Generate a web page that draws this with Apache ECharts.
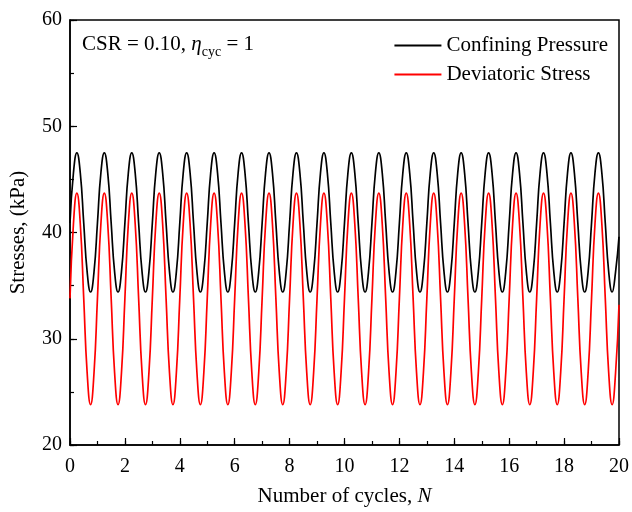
<!DOCTYPE html>
<html>
<head>
<meta charset="utf-8">
<script src="https://cdn.jsdelivr.net/npm/echarts@6/dist/echarts.min.js"></script>
<style>
html,body{margin:0;padding:0;background:#fff;}
#chart{width:632px;height:512px;}
</style>
</head>
<body>
<div id="chart"></div>
<script>
// Samples every 1/8 cycle, N = 0 ... 20
const samplesPerCycle = 8;
const xTicks = ['0','2','4','6','8','10','12','14','16','18','20'];
const yTicks = ['20','30','40','50','60'];
const seriesNames = ['Confining Pressure', 'Deviatoric Stress'];

const confining = [
  40.9, 45.6, 47.5, 45.6, 40.9, 36.3, 34.4, 36.3,
  40.9, 45.6, 47.5, 45.6, 40.9, 36.3, 34.4, 36.3,
  40.9, 45.6, 47.5, 45.6, 40.9, 36.3, 34.4, 36.3,
  40.9, 45.6, 47.5, 45.6, 40.9, 36.3, 34.4, 36.3,
  40.9, 45.6, 47.5, 45.6, 40.9, 36.3, 34.4, 36.3,
  40.9, 45.6, 47.5, 45.6, 40.9, 36.3, 34.4, 36.3,
  40.9, 45.6, 47.5, 45.6, 40.9, 36.3, 34.4, 36.3,
  40.9, 45.6, 47.5, 45.6, 40.9, 36.3, 34.4, 36.3,
  40.9, 45.6, 47.5, 45.6, 40.9, 36.3, 34.4, 36.3,
  40.9, 45.6, 47.5, 45.6, 40.9, 36.3, 34.4, 36.3,
  40.9, 45.6, 47.5, 45.6, 40.9, 36.3, 34.4, 36.3,
  40.9, 45.6, 47.5, 45.6, 40.9, 36.3, 34.4, 36.3,
  40.9, 45.6, 47.5, 45.6, 40.9, 36.3, 34.4, 36.3,
  40.9, 45.6, 47.5, 45.6, 40.9, 36.3, 34.4, 36.3,
  40.9, 45.6, 47.5, 45.6, 40.9, 36.3, 34.4, 36.3,
  40.9, 45.6, 47.5, 45.6, 40.9, 36.3, 34.4, 36.3,
  40.9, 45.6, 47.5, 45.6, 40.9, 36.3, 34.4, 36.3,
  40.9, 45.6, 47.5, 45.6, 40.9, 36.3, 34.4, 36.3,
  40.9, 45.6, 47.5, 45.6, 40.9, 36.3, 34.4, 36.3,
  40.9, 45.6, 47.5, 45.6, 40.9, 36.3, 34.4, 36.3,
  39.6
];

const deviatoric = [
  33.8, 40.8, 43.7, 40.8, 33.8, 26.8, 23.8, 26.8,
  33.8, 40.8, 43.7, 40.8, 33.8, 26.8, 23.8, 26.8,
  33.8, 40.8, 43.7, 40.8, 33.8, 26.8, 23.8, 26.8,
  33.8, 40.8, 43.7, 40.8, 33.8, 26.8, 23.8, 26.8,
  33.8, 40.8, 43.7, 40.8, 33.8, 26.8, 23.8, 26.8,
  33.8, 40.8, 43.7, 40.8, 33.8, 26.8, 23.8, 26.8,
  33.8, 40.8, 43.7, 40.8, 33.8, 26.8, 23.8, 26.8,
  33.8, 40.8, 43.7, 40.8, 33.8, 26.8, 23.8, 26.8,
  33.8, 40.8, 43.7, 40.8, 33.8, 26.8, 23.8, 26.8,
  33.8, 40.8, 43.7, 40.8, 33.8, 26.8, 23.8, 26.8,
  33.8, 40.8, 43.7, 40.8, 33.8, 26.8, 23.8, 26.8,
  33.8, 40.8, 43.7, 40.8, 33.8, 26.8, 23.8, 26.8,
  33.8, 40.8, 43.7, 40.8, 33.8, 26.8, 23.8, 26.8,
  33.8, 40.8, 43.7, 40.8, 33.8, 26.8, 23.8, 26.8,
  33.8, 40.8, 43.7, 40.8, 33.8, 26.8, 23.8, 26.8,
  33.8, 40.8, 43.7, 40.8, 33.8, 26.8, 23.8, 26.8,
  33.8, 40.8, 43.7, 40.8, 33.8, 26.8, 23.8, 26.8,
  33.8, 40.8, 43.7, 40.8, 33.8, 26.8, 23.8, 26.8,
  33.8, 40.8, 43.7, 40.8, 33.8, 26.8, 23.8, 26.8,
  33.8, 40.8, 43.7, 40.8, 33.8, 26.8, 23.8, 26.8,
  33.2
];

const FONT = '"Liberation Serif", "Times New Roman", serif';
const toPairs = arr => arr.map((v, i) => [i / samplesPerCycle, v]);

const chart = echarts.init(document.getElementById('chart'), null, {renderer: 'canvas'});
chart.setOption({
  animation: false,
  backgroundColor: '#fff',
  grid: {
    left: 70, right: 11, top: 20, bottom: 66,
    show: true, borderColor: '#000', borderWidth: 1.5, backgroundColor: 'transparent'
  },
  xAxis: [{
    type: 'value', min: 0, max: 20, interval: 2, position: 'bottom',
    name: '{a|Number of cycles, }{i|N}',
    nameLocation: 'middle', nameGap: 41,
    nameTextStyle: {
      rich: {
        a: {fontFamily: FONT, fontSize: 21, color: '#000'},
        i: {fontFamily: FONT, fontSize: 21, color: '#000', fontStyle: 'italic'}
      }
    },
    axisLine: {lineStyle: {color: '#000', width: 1.5}},
    axisTick: {inside: true, length: 7, lineStyle: {color: '#000', width: 1.2}},
    axisLabel: {
      margin: 12, color: '#000', fontFamily: FONT, fontSize: 20,
      formatter: v => xTicks[Math.round(v / 2)]
    },
    splitLine: {show: false}
  }, {
    type: 'value', min: 0, max: 20, interval: 1, position: 'bottom',
    axisLine: {show: false},
    axisTick: {show: true, inside: true, length: 4, lineStyle: {color: '#000', width: 1.2}},
    axisLabel: {show: false},
    splitLine: {show: false}
  }],
  yAxis: [{
    type: 'value', min: 20, max: 60, interval: 10, position: 'left',
    name: 'Stresses, (kPa)',
    nameLocation: 'middle', nameGap: 41,
    nameTextStyle: {fontFamily: FONT, fontSize: 21, color: '#000'},
    axisLine: {show: true, lineStyle: {color: '#000', width: 1.5}},
    axisTick: {show: true, inside: true, length: 7, lineStyle: {color: '#000', width: 1.2}},
    axisLabel: {
      margin: 8, color: '#000', fontFamily: FONT, fontSize: 20,
      formatter: v => yTicks[Math.round((v - 20) / 10)]
    },
    splitLine: {show: false}
  }, {
    type: 'value', min: 20, max: 60, interval: 5, position: 'left',
    axisLine: {show: false},
    axisTick: {show: true, inside: true, length: 4, lineStyle: {color: '#000', width: 1.2}},
    axisLabel: {show: false},
    splitLine: {show: false}
  }],
  legend: {
    orient: 'vertical', right: 19, top: 30,
    itemWidth: 47, itemHeight: 14, itemGap: 8,
    itemStyle: {opacity: 0},
    textStyle: {fontFamily: FONT, fontSize: 21, color: '#000', lineHeight: 20},
    data: seriesNames
  },
  graphic: [{
    type: 'text', left: 82, top: 34,
    style: {
      text: '{t|CSR = 0.10, }{e|η}{s|cyc}{t| = 1}',
      rich: {
        t: {fontFamily: FONT, fontSize: 21, fill: '#000', lineHeight: 25, verticalAlign: 'top'},
        e: {fontFamily: FONT, fontSize: 21, fill: '#000', fontStyle: 'italic', lineHeight: 25, verticalAlign: 'top'},
        s: {fontFamily: FONT, fontSize: 14, fill: '#000', lineHeight: 14, verticalAlign: 'bottom'}
      }
    }
  }],
  series: [
    {
      name: seriesNames[0], type: 'line', data: toPairs(confining),
      xAxisIndex: 0, yAxisIndex: 0,
      symbol: 'none', showSymbol: false, smooth: 0.5,
      lineStyle: {color: '#000', width: 1.7}, itemStyle: {color: '#000'}
    },
    {
      name: seriesNames[1], type: 'line', data: toPairs(deviatoric),
      xAxisIndex: 0, yAxisIndex: 0,
      symbol: 'none', showSymbol: false, smooth: 0.5,
      lineStyle: {color: '#ff0000', width: 1.7}, itemStyle: {color: '#ff0000'}
    }
  ]
});
</script>
</body>
</html>
